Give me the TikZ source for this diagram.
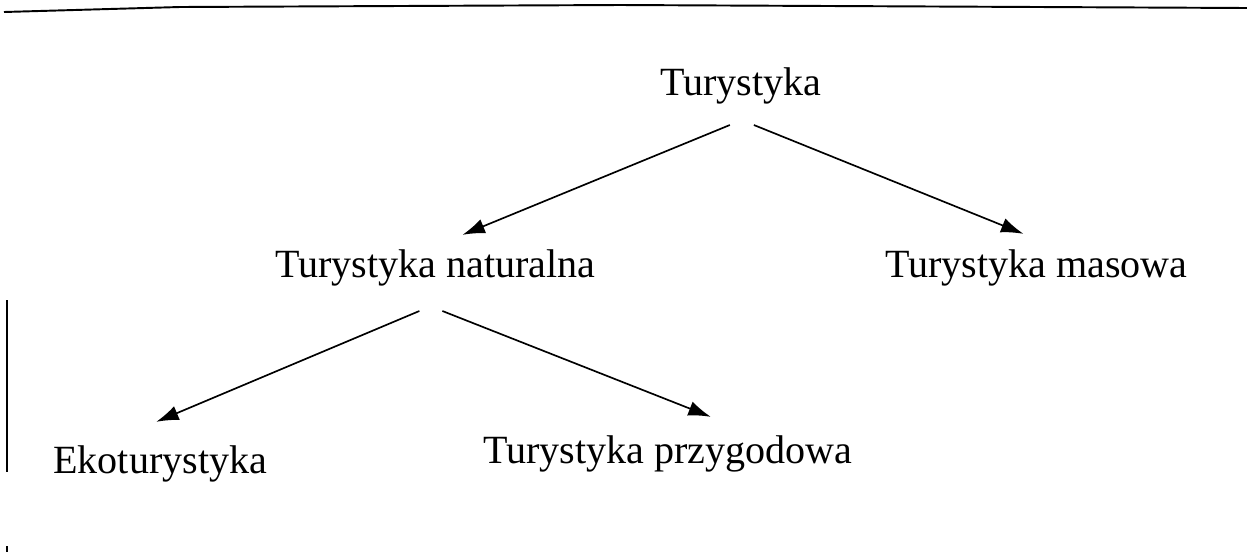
\documentclass[tikz,border=0pt]{standalone}
\usepackage{fontspec}
\setmainfont{Liberation Serif}
\usetikzlibrary{arrows.meta,calc}
\begin{document}
\begin{tikzpicture}[
x=0.02cm,y=-0.02cm,
term/.style={anchor=base west,inner sep=0,font=\fontsize{22.8}{27}\selectfont},
branch/.style={-{Latex[length=0.45cm,width=0.3cm]},line width=0.95pt},
frame/.style={line width=1.1pt},
]
\useasboundingbox(0,0)rectangle(1247,552);
%frame
\draw[frame](4,12)--(180,7)--(620,5)--(1247,8);
\draw[line width=0.6pt](7,300)--(7,472);
\draw[line width=0.6pt](7,546)--(7,552);
%terms
\node[term](tur)at(660,95){Turystyka};
\node[term](nat)at(275,277){Turystyka naturalna};
\node[term](mas)at(885,277){Turystyka masowa};
\node[term](eko)at(53,473){Ekoturystyka};
\node[term](prz)at(483,463){Turystyka przygodowa};
%branches
\draw[branch]($(tur.south)+(-11,21)$)--($(nat.north)+(27,-14)$);
\draw[branch]($(tur.south)+(13,21)$)--($(mas.north)+(-13,-15)$);
\draw[branch]($(nat.south)+(-16,25)$)--($(eko.north)+(-4,-23)$);
\draw[branch]($(nat.south)+(7,25)$)--($(prz.north)+(43,-18)$);
\end{tikzpicture}
\end{document}
